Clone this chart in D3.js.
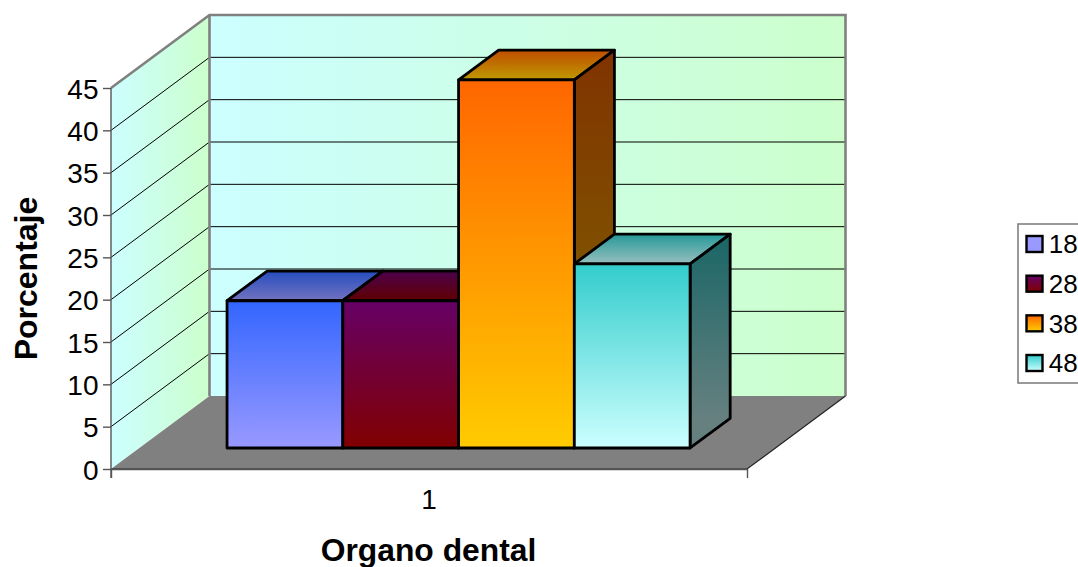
<!DOCTYPE html>
<html>
<head>
<meta charset="utf-8">
<script src="https://cdn.jsdelivr.net/npm/d3@7"></script>
<style>
html,body{margin:0;padding:0;background:#fff;overflow:hidden}
svg{display:block}
text{font-family:"Liberation Sans",Arial,sans-serif;fill:#000}
</style>
</head>
<body>
<svg id="chart" width="1078" height="567"></svg>
<script>
// Chart data
const categories = ["1"];
const seriesNames = ["18", "28", "38", "48"];
const seriesValues = [17.39, 17.39, 43.48, 21.74];
const yTicks = [0, 5, 10, 15, 20, 25, 30, 35, 40, 45];
const gradientStops = [
  ["#3366ff", "#9999ff"],
  ["#660066", "#800000"],
  ["#ff6600", "#ffcc00"],
  ["#33cccc", "#ccffff"]
];

const svg = d3.select("#chart");
const defs = svg.append("defs");

// Front plane of the 3D box, and the shift from front to back wall
const y = d3.scaleLinear().domain([0, 45]).range([469, 88]);
const xCat = d3.scaleBand().domain(categories).range([111, 747]);
const xBar = d3.scaleBand().domain(seriesNames).range([112.2, 748.2])
  .paddingInner(0).paddingOuter(0.747);
const depthX = d3.scaleLinear().domain([0, 1]).range([0, 98.5]);
const depthY = d3.scaleLinear().domain([0, 1]).range([0, -73]);
const barFront = 0.288, barBack = 0.695;

// Project (plot x, value, depth) to the screen
const px = (x, d) => x + depthX(d);
const py = (v, d) => y(v) + depthY(d);
const poly = pts => pts.map(p => p.join(",")).join(" ");
const pt = (x, v, d) => [px(x, d), py(v, d)];

function linear(id, x1, y1, x2, y2, c1, c2) {
  const g = defs.append("linearGradient").attr("id", id)
    .attr("gradientUnits", "userSpaceOnUse")
    .attr("x1", x1).attr("y1", y1).attr("x2", x2).attr("y2", y2);
  g.append("stop").attr("offset", 0).attr("stop-color", c1);
  g.append("stop").attr("offset", 1).attr("stop-color", c2);
  return `url(#${id})`;
}
function shade(c, k) {
  const r = d3.rgb(c);
  return d3.rgb(r.r * k, r.g * k, r.b * k).formatHex();
}

const [xL, xR] = xCat.range();
const wallStroke = "#808080";

// Side wall and back wall
const wallFillSide = linear("wallSide", px(xL, 0), 0, px(xL, 1), 0, "#ccffff", "#ccffcc");
const wallFillBack = linear("wallBack", px(xL, 1), 0, px(xR, 1), 0, "#ccffff", "#ccffcc");
svg.append("polygon")
  .attr("points", poly([pt(xL, 0, 0), pt(xL, 45, 0), pt(xL, 45, 1), pt(xL, 0, 1)]))
  .attr("fill", wallFillSide);
svg.append("polygon")
  .attr("points", poly([pt(xL, 0, 1), pt(xL, 45, 1), pt(xR, 45, 1), pt(xR, 0, 1)]))
  .attr("fill", wallFillBack);

// Gridlines on both walls
const grid = svg.append("g").attr("stroke", "#000").attr("stroke-width", 1).attr("fill", "none");
grid.selectAll("path").data(yTicks.filter(t => t > 0 && t < 45)).join("path")
  .attr("d", t => d3.line()([pt(xL, t, 0), pt(xL, t, 1), pt(xR, t, 1)]));

// Wall outline
svg.append("path")
  .attr("d", d3.line()([pt(xL, 45, 0), pt(xL, 45, 1), pt(xR, 45, 1), pt(xR, 0, 1)]))
  .attr("fill", "none").attr("stroke", wallStroke).attr("stroke-width", 2.6);
svg.append("line")
  .attr("x1", px(xL, 1)).attr("x2", px(xL, 1))
  .attr("y1", py(45, 1)).attr("y2", py(0, 1))
  .attr("stroke", wallStroke).attr("stroke-width", 2.6);

// Floor
svg.append("polygon")
  .attr("points", poly([pt(xL, 0, 0), pt(xR, 0, 0), pt(xR, 0, 1), pt(xL, 0, 1)]))
  .attr("fill", "#808080");
svg.append("path")
  .attr("d", d3.line()([pt(xL, 0, 0), pt(xR, 0, 0), pt(xR, 0, 1)]))
  .attr("fill", "none").attr("stroke", "#222").attr("stroke-width", 1.2);

// Bars, drawn left to right so each one overlaps its neighbour correctly
const bars = svg.append("g").attr("stroke", "#000").attr("stroke-width", 2.8)
  .attr("stroke-linejoin", "round");
seriesNames.forEach((name, i) => {
  const x0 = xBar(name), x1 = x0 + xBar.bandwidth(), v = seriesValues[i];
  const [c1, c2] = gradientStops[i];
  const yTop = py(v, barFront), yBase = py(0, barFront);
  const front = linear(`front${i}`, 0, yTop, 0, yBase, c1, c2);
  const top = linear(`top${i}`, 0, py(v, barBack), 0, yTop, shade(c1, 0.75), shade(c2, 0.75));
  const side = linear(`side${i}`, 0, py(v, barBack), 0, py(0, barBack), shade(c1, 0.5), shade(c2, 0.5));
  const g = bars.append("g");
  g.append("polygon").attr("fill", top)
    .attr("points", poly([pt(x0, v, barFront), pt(x0, v, barBack), pt(x1, v, barBack), pt(x1, v, barFront)]));
  g.append("polygon").attr("fill", side)
    .attr("points", poly([pt(x1, v, barFront), pt(x1, v, barBack), pt(x1, 0, barBack), pt(x1, 0, barFront)]));
  g.append("polygon").attr("fill", front)
    .attr("points", poly([pt(x0, v, barFront), pt(x1, v, barFront), pt(x1, 0, barFront), pt(x0, 0, barFront)]));
});

// Axes
const axisColor = "#555";
const yAxis = svg.append("g").attr("transform", `translate(${xL},0)`)
  .call(d3.axisLeft(y).tickValues(yTicks).tickSize(8).tickPadding(4.5).tickSizeOuter(0));
const xAxis = svg.append("g").attr("transform", `translate(0,${y(0)})`)
  .call(d3.axisBottom(xCat).tickSize(0).tickPadding(20).tickSizeOuter(9));
[yAxis, xAxis].forEach(a => {
  a.selectAll("path").attr("stroke", axisColor).attr("stroke-width", 1.4);
  a.selectAll("line").attr("stroke", axisColor).attr("stroke-width", 1.4);
  a.selectAll("text").attr("font-family", '"Liberation Sans",Arial,sans-serif')
    .attr("font-size", 28).attr("fill", "#000");
});
yAxis.selectAll("text").attr("dy", "0.36em");
yAxis.select("path").attr("d", `M0,${y(45)}V${y(0) + 9}`);

// Axis titles
svg.append("text").attr("x", 428.5).attr("y", 560.5).attr("text-anchor", "middle")
  .attr("font-size", 31.8).attr("font-weight", "bold").text("Organo dental");
svg.append("text").attr("transform", "translate(36.5,278.5) rotate(-90)").attr("text-anchor", "middle")
  .attr("font-size", 32).attr("font-weight", "bold").text("Porcentaje");

// Legend
const legend = svg.append("g");
legend.append("rect").attr("x", 1018).attr("y", 224).attr("width", 70).attr("height", 159)
  .attr("fill", "#fff").attr("stroke", "#808080").attr("stroke-width", 1.6);
const ly = d3.scalePoint().domain(seriesNames).range([244, 363]);
seriesNames.forEach((name, i) => {
  const yc = ly(name);
  const fill = linear(`key${i}`, 0, yc - 8, 0, yc + 8, gradientStops[i][0], gradientStops[i][1]);
  legend.append("rect").attr("x", 1026.5).attr("y", yc - 8).attr("width", 16).attr("height", 16)
    .attr("fill", i === 0 ? gradientStops[0][1] : fill).attr("stroke", "#000").attr("stroke-width", 2.4);
  legend.append("text").attr("x", 1048.8).attr("y", yc + 9.3).attr("font-size", 26).text(name);
});
</script>
</body>
</html>
